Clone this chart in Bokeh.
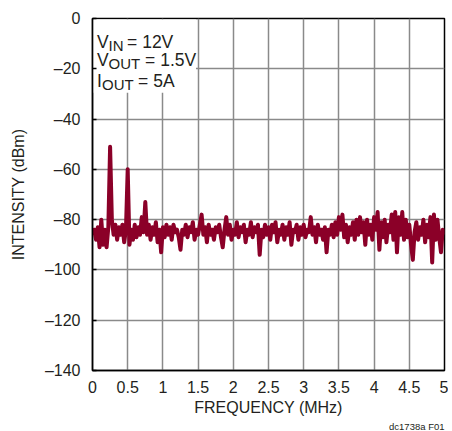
from bokeh.plotting import figure
from bokeh.models import Range1d, FixedTicker, BoxAnnotation, Label, ColumnDataSource, Title
from bokeh.embed import file_html
from bokeh.resources import INLINE

# ---- data ----
freq_start = 0.0
freq_step = 0.025  # MHz sampling of the trace
intensity_dbm = [
    -86, -84, -88, -83, -91, -80, -90, -84, -91, -83,
    -51, -80, -86, -82, -88, -83, -86, -82, -89, -84,
    -60, -90, -84, -88, -82, -87, -83, -86, -79, -85,
    -73, -86, -82, -88, -83, -86, -81, -89, -84, -93,
    -83, -87, -82, -86, -83, -88, -82, -85, -84, -87,
    -92, -84, -86, -82, -87, -83, -85, -81, -88, -84,
    -86, -82, -78, -86, -83, -89, -82, -86, -84, -88,
    -83, -85, -82, -87, -91, -84, -79, -86, -82, -88,
    -84, -86, -81, -87, -83, -85, -82, -89, -84, -86,
    -81, -87, -83, -85, -82, -94, -84, -87, -82, -86,
    -83, -88, -82, -85, -81, -89, -84, -86, -82, -88,
    -83, -86, -81, -90, -84, -85, -82, -88, -83, -86,
    -82, -87, -84, -85, -79, -86, -83, -89, -82, -86,
    -84, -88, -83, -93, -84, -86, -82, -87, -81, -86,
    -79, -84, -78, -87, -82, -89, -83, -86, -81, -88,
    -80, -86, -79, -85, -81, -90, -80, -86, -82, -88,
    -79, -84, -77, -92, -81, -87, -80, -89, -82, -85,
    -78, -88, -77, -93, -79, -86, -77, -88, -80, -87,
    -82, -90, -96, -85, -81, -88, -83, -86, -80, -89,
    -82, -87, -79, -97, -78, -88, -80, -87, -93, -84,
    -86,
]
freq_mhz = [freq_start + i * freq_step for i in range(len(intensity_dbm))]

x_ticks = [0, 0.5, 1, 1.5, 2, 2.5, 3, 3.5, 4, 4.5, 5]
x_tick_labels = ["0", "0.5", "1", "1.5", "2", "2.5", "3", "3.5", "4", "4.5", "5"]
y_ticks = [0, -20, -40, -60, -80, -100, -120, -140]
y_tick_labels = ["0", "\u201320", "\u201340", "\u201360", "\u201380", "\u2013100", "\u2013120", "\u2013140"]

FONT = "Liberation Sans"
TXT = "#231f20"
TRACE = "#8b0028"

p = figure(width=448, height=431, output_backend="svg", toolbar_location=None,
           x_range=Range1d(0, 5), y_range=Range1d(-140, 0),
           min_border_left=92, min_border_right=4, min_border_top=18, min_border_bottom=61,
           background_fill_color="white", border_fill_color="white")

p.outline_line_color = "black"
p.outline_line_width = 1.5
p.outline_line_alpha = 1

p.xaxis.ticker = FixedTicker(ticks=x_ticks)
p.yaxis.ticker = FixedTicker(ticks=y_ticks)
p.xaxis.major_label_overrides = dict(zip([float(t) for t in x_ticks], x_tick_labels))
p.yaxis.major_label_overrides = dict(zip(y_ticks, y_tick_labels))
p.xgrid.ticker = FixedTicker(ticks=x_ticks)
p.ygrid.ticker = FixedTicker(ticks=y_ticks)

for g in (p.xgrid, p.ygrid):
    g.grid_line_color = "#8a8a8a"
    g.grid_line_width = 1.5

for ax in (p.xaxis, p.yaxis):
    ax.axis_line_color = "black"
    ax.axis_line_width = 1.5
    ax.major_tick_out = 0
    ax.minor_tick_out = 0
    ax.minor_tick_in = 0
    ax.major_label_text_font = FONT
    ax.major_label_text_font_size = "16px"
    ax.major_label_text_color = TXT
    ax.axis_label_text_font = FONT
    ax.axis_label_text_font_size = "16px"
    ax.axis_label_text_font_style = "normal"
    ax.axis_label_text_color = TXT

p.xaxis.major_tick_in = 0
p.yaxis.major_tick_in = 4
p.yaxis.major_tick_line_color = "black"
p.yaxis.major_tick_line_width = 1.5
p.xaxis.major_label_standoff = 10
p.yaxis.major_label_standoff = 12
p.xaxis.axis_label = "FREQUENCY (MHz)"
p.yaxis.axis_label = "INTENSITY (dBm)"
p.xaxis.axis_label_standoff = 3
p.yaxis.axis_label_standoff = 15

# white box behind the conditions text
box = BoxAnnotation(left=0.012, right=1.47, top=-0.4, bottom=-29.5,
                    fill_color="white", fill_alpha=1, line_alpha=0, level="underlay")
p.add_layout(box)

src = ColumnDataSource(dict(f=freq_mhz, db=intensity_dbm))
p.line("f", "db", source=src, line_color=TRACE, line_width=4, line_join="round")

# conditions text
tx = 0.065
lines = [
    (-9.4, [("V", 0, 0, "17.5px"), ("IN", 11.5, -3.5, "15px"), ("= 12V", 30, 0, "17.5px")]),
    (-16.6, [("V", 0, 0, "17.5px"), ("OUT", 11.5, -3.5, "15px"), ("= 1.5V", 48, 0, "17.5px")]),
    (-25.0, [("I", 0, 0, "17.5px"), ("OUT", 4.9, -3.5, "15px"), ("= 5A", 41, 0, "17.5px")]),
]
for yv, pieces in lines:
    for txt, xo, yo, fs in pieces:
        p.add_layout(Label(x=tx, y=yv, x_offset=xo, y_offset=yo, text=txt,
                           text_font=FONT, text_font_size=fs, text_color=TXT,
                           text_baseline="alphabetic", text_align="left"))

# figure code at bottom right, as a title below the x axis
code_title = Title(text="dc1738a F01", align="right", standoff=0, offset=0,
                   text_font=FONT, text_font_size="9.5px", text_color=TXT,
                   text_font_style="normal")
p.add_layout(code_title, "below")

open("out.html", "w").write(file_html(p, INLINE))
